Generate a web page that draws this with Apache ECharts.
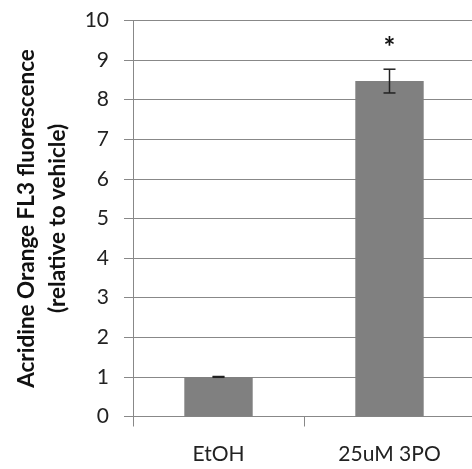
<!DOCTYPE html>
<html>
<head>
<meta charset="utf-8">
<script src="https://cdn.jsdelivr.net/npm/echarts@6/dist/echarts.min.js"></script>
<style>
  html, body { margin: 0; padding: 0; background: #fff; }
  #chart { width: 472px; height: 469px; }
</style>
</head>
<body>
<div id="chart"></div>
<script>
// Acridine Orange FL3 fluorescence, relative to vehicle
const categories = ['EtOH', '25uM 3PO'];
const means = [1.0, 8.47];
const errors = [0.01, 0.3];
const significance = ['', '*'];
const yTicks = [0, 1, 2, 3, 4, 5, 6, 7, 8, 9, 10];

const chart = echarts.init(document.getElementById('chart'));
const font = 'Lato, "Open Sans", sans-serif';
const gridColor = '#888888';

const errorData = means.map((m, i) => [i, m - errors[i], m + errors[i]]);
const starData = means.map((m, i) => [i, m + errors[i]]);

chart.setOption({
  animation: false,
  grid: { left: 133, right: -3, top: 20.5, bottom: 52.5, containLabel: false, outerBoundsMode: 'none' },
  xAxis: {
    type: 'category',
    data: categories,
    boundaryGap: true,
    axisLine: { show: true, lineStyle: { color: gridColor, width: 1 } },
    axisTick: { show: true, length: 10, inside: false, lineStyle: { color: gridColor } },
    axisLabel: { color: '#222', fontFamily: font, fontSize: 21, margin: 27 }
  },
  yAxis: {
    type: 'value',
    min: yTicks[0],
    max: yTicks[yTicks.length - 1],
    interval: 1,
    name: 'Acridine Orange FL3 fluorescence\n(relative to vehicle)',
    nameLocation: 'middle',
    nameGap: 58,
    nameRotate: 90,
    nameTextStyle: { color: '#111', fontFamily: font, fontWeight: 'bold', fontSize: 22.5, lineHeight: 31 },
    axisLine: { show: true, lineStyle: { color: gridColor, width: 1 } },
    axisTick: { show: true, length: 9, lineStyle: { color: gridColor } },
    splitLine: { show: true, lineStyle: { color: gridColor, width: 1 } },
    axisLabel: { color: '#222', fontFamily: font, fontSize: 21, margin: 24 }
  },
  series: [
    {
      type: 'bar',
      data: means,
      barWidth: '40%',
      itemStyle: { color: '#808080' },
      z: 2
    },
    {
      type: 'custom',
      data: errorData,
      z: 3,
      renderItem: function (params, api) {
        const x = api.value(0);
        const lo = api.coord([x, api.value(1)]);
        const hi = api.coord([x, api.value(2)]);
        const half = 6;
        const style = { stroke: '#222', lineWidth: 1.5 };
        return {
          type: 'group',
          children: [
            { type: 'line', shape: { x1: hi[0], y1: hi[1], x2: lo[0], y2: lo[1] }, style: style },
            { type: 'line', shape: { x1: hi[0] - half, y1: hi[1], x2: hi[0] + half, y2: hi[1] }, style: style },
            { type: 'line', shape: { x1: lo[0] - half, y1: lo[1], x2: lo[0] + half, y2: lo[1] }, style: style }
          ]
        };
      }
    },
    {
      type: 'custom',
      data: starData,
      z: 4,
      renderItem: function (params, api) {
        const p = api.coord([api.value(0), api.value(1)]);
        return {
          type: 'text',
          x: p[0],
          y: p[1] - 21,
          style: {
            text: significance[params.dataIndex],
            fill: '#111',
            font: 'bold 28px ' + font,
            align: 'center',
            verticalAlign: 'middle'
          }
        };
      }
    }
  ]
});
</script>
</body>
</html>
